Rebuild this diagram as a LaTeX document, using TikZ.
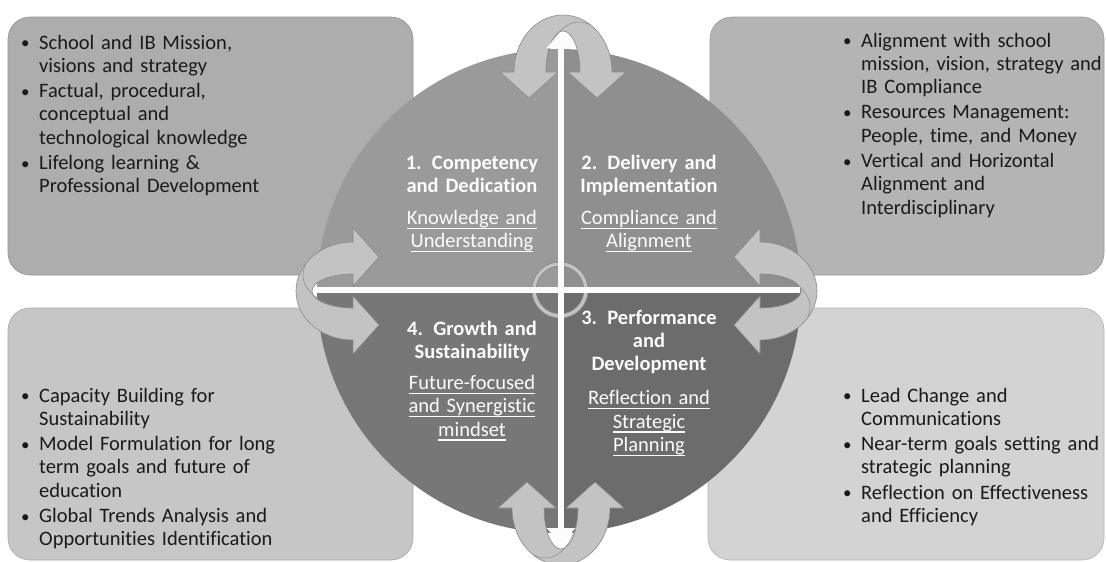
\documentclass[tikz,border=0pt]{standalone}
\usepackage{fontspec}
\setmainfont{Carlito}[Ligatures=NoCommon]
\usetikzlibrary{arrows.meta}

\definecolor{boxTLc}{HTML}{ADADAD}
\definecolor{boxTRc}{HTML}{B4B4B4}
\definecolor{boxBLc}{HTML}{C6C6C6}
\definecolor{boxBRc}{HTML}{D3D3D3}
\definecolor{qTLc}{HTML}{9A9A9A}
\definecolor{qTRc}{HTML}{8F8F8F}
\definecolor{qBLc}{HTML}{777777}
\definecolor{qBRc}{HTML}{6C6C6C}
\definecolor{arrowc}{HTML}{C3C3C3}
\definecolor{arrowedge}{HTML}{8A8A8A}
\definecolor{txt}{HTML}{1A1A1A}
\definecolor{whitec}{HTML}{FCFCFC}

% underlined text line with the rule crossing descenders
\newcommand\uln[1]{\leavevmode\setbox0\hbox{#1}\rlap{\rule[-4.4pt]{\wd0}{1.4pt}}\box0}
% bulleted item with hanging indent; \\ breaks lines inside the item
\newcommand\bitem[1]{{\let\\\newline\hangindent=18pt\hangafter=1\noindent
  \hbox to 18pt{\raisebox{0.5pt}{\fontsize{17}{17}\selectfont\textbullet}\hss}#1\par}}
\newcommand\gap{\par\vspace{2pt}}

\tikzset{
  panel/.style={rounded corners=22pt, inner sep=0pt, draw=#1!85!black, line width=0.6pt, fill=#1},
  boxtext/.style={anchor=base west, inner sep=0pt, text width=262pt, align=left,
    text=txt, font=\fontsize{20.5}{23.3}\selectfont},
  qtext/.style={anchor=base, inner sep=0pt, text width=170pt, align=center,
    text=whitec, font=\fontsize{20.5}{23.3}\selectfont},
  arrowstyle/.style={fill=arrowc, draw=arrowedge, line width=0.6pt},
  whiteline/.style={draw=whitec, line width=5.5pt},
  turnarrow/.pic={
    \filldraw[arrowstyle]
      (-49,0) arc[start angle=180, end angle=360, x radius=49, y radius=57]
      -- (63,0) -- (34,26) -- (5,0) -- (17,0)
      arc[start angle=360, end angle=180, x radius=17, y radius=41]
      -- (-5,0) -- (-34,26) -- (-63,0) -- cycle;
    \draw[draw=arrowedge, line width=0.5pt]
      (-17,0) arc[start angle=180, end angle=290, x radius=33, y radius=50];
  }
}

\begin{document}
\begin{tikzpicture}[x=1pt, y=-1pt]
\useasboundingbox (0,0) rectangle (1106,562);
\fill[white] (0,0) rectangle (1106,562);

% four side panels
\node[panel=boxTLc, minimum width=405pt, minimum height=258pt] (pTL) at (210.5,146) {};
\node[panel=boxTRc, minimum width=394pt, minimum height=258pt] (pTR) at (907,146) {};
\node[panel=boxBLc, minimum width=405pt, minimum height=252pt] (pBL) at (210.5,434) {};
\node[panel=boxBRc, minimum width=396pt, minimum height=252pt] (pBR) at (906,434) {};

% central disc in four quadrants
\coordinate (c) at (559,291);
\fill[qTLc] (c) -- (317,291) arc[start angle=180, end angle=270, radius=242] -- cycle;
\fill[qTRc] (c) -- (559,49) arc[start angle=270, end angle=360, radius=242] -- cycle;
\fill[qBRc] (c) -- (801,291) arc[start angle=0, end angle=90, radius=242] -- cycle;
\fill[qBLc] (c) -- (559,533) arc[start angle=90, end angle=180, radius=242] -- cycle;

% turning arrows on the four axis ends
\pic at (563,72) {turnarrow};
\pic[rotate=180] at (561,508) {turnarrow};
\pic[rotate=90] at (353,291) {turnarrow};
\pic[rotate=-90] at (760,291) {turnarrow};

% small ring at the centre
\draw[arrowedge, line width=5pt] (560,290) circle[radius=26];
\draw[arrowc, line width=3.2pt] (560,290) circle[radius=26];

% white axes
\coordinate (vtop) at (561,32);
\coordinate (vbot) at (561,544);
\coordinate (hl) at (316,290);
\coordinate (hr) at (800,290);
\draw[whiteline, {Triangle[width=28pt,length=16pt]}-{Triangle[width=28pt,length=16pt]}] (vbot) -- (vtop);
\draw[whiteline] (hl) -- (hr);

% quadrant labels
\node[qtext] (q1) at (472,169) {{\bfseries 1. Competency\\and Dedication}\\[9pt]\uln{Knowledge and}\\\uln{Understanding}};
\node[qtext] (q2) at (649,169) {{\bfseries 2. Delivery and\\Implementation}\\[9pt]\uln{Compliance and}\\\uln{Alignment}};
\node[qtext] (q3) at (649,324) {{\bfseries 3. Performance\\and\\Development}\\[11pt]\uln{Reflection and}\\\uln{Strategic}\\\uln{Planning}};
\node[qtext] (q4) at (472,335) {{\bfseries 4. Growth and\\Sustainability}\\[8pt]\uln{Future-focused}\\\uln{and Synergistic}\\\uln{mindset}};

% panel bullet lists
\node[boxtext] (tTL) at (21,49) {%
\bitem{School and IB Mission,\\visions and strategy}\gap
\bitem{Factual, procedural,\\conceptual and\\technological knowledge}\gap
\bitem{Lifelong learning \&\\Professional Development}};
\node[boxtext] (tTR) at (843,47) {%
\bitem{Alignment with school\\mission, vision, strategy and\\IB Compliance}\gap
\bitem{Resources Management:\\People, time, and Money}\gap
\bitem{Vertical and Horizontal\\Alignment and\\Interdisciplinary}};
\node[boxtext] (tBL) at (21,402) {%
\bitem{Capacity Building for\\Sustainability}\gap
\bitem{Model Formulation for long\\term goals and future of\\education}\gap
\bitem{Global Trends Analysis and\\Opportunities Identification}};
\node[boxtext] (tBR) at (843,402) {%
\bitem{Lead Change and\\Communications}\gap
\bitem{Near-term goals setting and\\strategic planning}\gap
\bitem{Reflection on Effectiveness\\and Efficiency}};
\end{tikzpicture}
\end{document}
